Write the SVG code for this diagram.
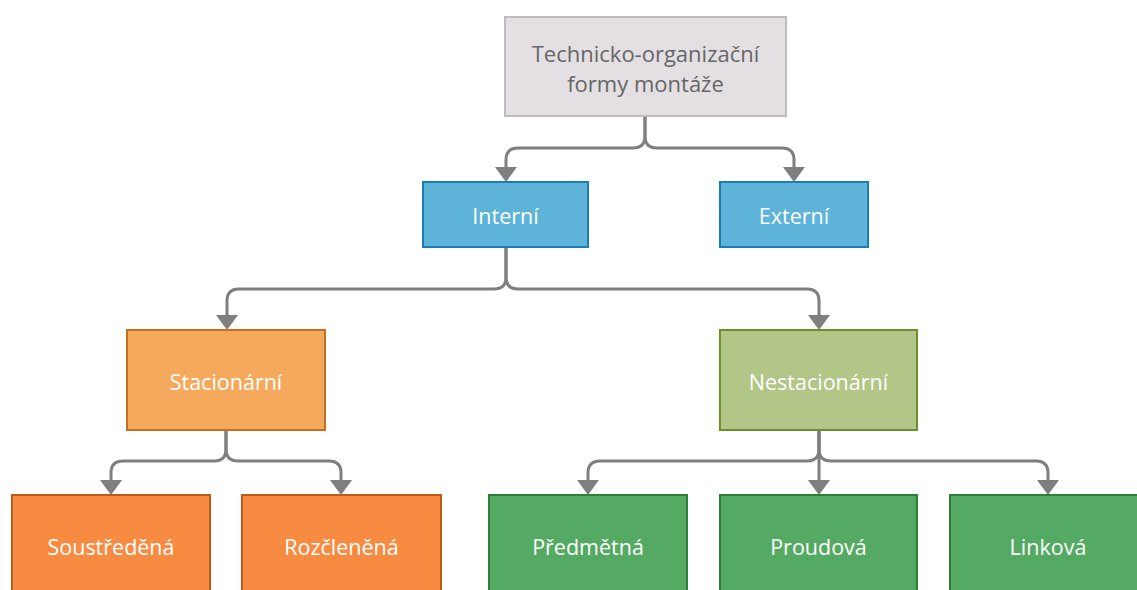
<svg xmlns="http://www.w3.org/2000/svg" width="1137" height="590" viewBox="0 0 1137 590">
<style>
.conn{fill:none;stroke:#7f7f7f;stroke-width:3;marker-end:url(#arr)}
.box{stroke-width:2}
.lbl{font-family:"Open Sans","Noto Sans",sans-serif;font-size:21.5px;fill:#ffffff;text-anchor:middle;dominant-baseline:central}
.root{font-family:"Open Sans","Noto Sans",sans-serif;font-size:22px;fill:#666666;text-anchor:middle;dominant-baseline:central}
.blue{fill:#5db3d8;stroke:#1b7db5}
.lorange{fill:#f5a95d;stroke:#c56f25}
.lgreen{fill:#b2c687;stroke:#6f8f2c}
.orange{fill:#f78b42;stroke:#bd5b1c}
.green{fill:#54aa62;stroke:#2f7f3b}
</style>
<defs>
<marker id="arr" markerUnits="userSpaceOnUse" viewBox="0 0 15 22" markerWidth="15" markerHeight="22" refX="0" refY="11" orient="auto">
<polygon points="0,0 15,11 0,22" fill="#7f7f7f"/>
</marker>
</defs>
<rect width="1137" height="590" fill="#ffffff"/>
<g id="connectors">
<path class="conn" d="M645,116 V136 Q645,148 633,148 H518 Q506,148 506,160 V167"/>
<path class="conn" d="M645,116 V136 Q645,148 657,148 H782 Q794,148 794,160 V167"/>
<path class="conn" d="M506,247 V277 Q506,289 494,289 H239 Q227,289 227,301 V315"/>
<path class="conn" d="M506,247 V277 Q506,289 518,289 H807 Q819,289 819,301 V315"/>
<path class="conn" d="M226,430 V449 Q226,461 214,461 H123 Q111,461 111,473 V480"/>
<path class="conn" d="M226,430 V449 Q226,461 238,461 H329 Q341,461 341,473 V480"/>
<path class="conn" d="M819,430 V449 Q819,461 807,461 H600 Q588,461 588,473 V480"/>
<path class="conn" d="M819,430 V480"/>
<path class="conn" d="M819,430 V449 Q819,461 831,461 H1036 Q1048,461 1048,473 V480"/>
</g>
<g id="root">
<rect class="box" x="505" y="17" width="281" height="99" fill="#e4dfe3" stroke="#bfbcbe"/>
<text class="root" x="645.5" y="53">Technicko-organizační</text>
<text class="root" x="645.5" y="83">formy montáže</text>
</g>
<g id="interni">
<rect class="box blue" x="423" y="182" width="165" height="65"/>
<text class="lbl" x="505.5" y="215">Interní</text>
</g>
<g id="externi">
<rect class="box blue" x="720" y="182" width="148" height="65"/>
<text class="lbl" x="794" y="215">Externí</text>
</g>
<g id="stacionarni">
<rect class="box lorange" x="127" y="330" width="198" height="100"/>
<text class="lbl" x="226" y="381">Stacionární</text>
</g>
<g id="nestacionarni">
<rect class="box lgreen" x="720" y="330" width="197" height="100"/>
<text class="lbl" x="818.5" y="381">Nestacionární</text>
</g>
<g id="soustredena">
<rect class="box orange" x="12" y="495" width="198" height="110"/>
<text class="lbl" x="111" y="546">Soustředěná</text>
</g>
<g id="rozclenena">
<rect class="box orange" x="242" y="495" width="199" height="110"/>
<text class="lbl" x="341.5" y="546">Rozčleněná</text>
</g>
<g id="predmetna">
<rect class="box green" x="489" y="495" width="198" height="110"/>
<text class="lbl" x="588" y="546">Předmětná</text>
</g>
<g id="proudova">
<rect class="box green" x="720" y="495" width="197" height="110"/>
<text class="lbl" x="818.5" y="546">Proudová</text>
</g>
<g id="linkova">
<rect class="box green" x="950" y="495" width="197" height="110"/>
<text class="lbl" x="1048" y="546">Linková</text>
</g>
</svg>
